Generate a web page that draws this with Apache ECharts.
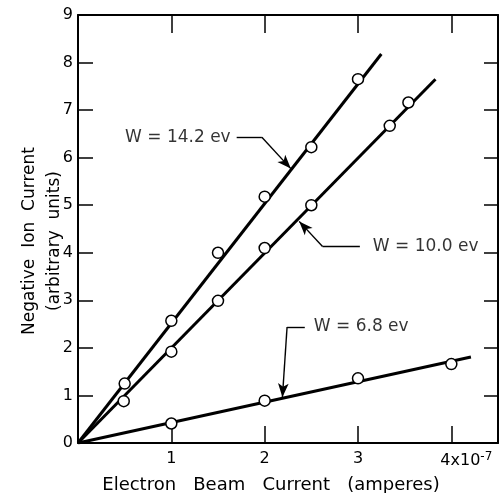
<!DOCTYPE html>
<html>
<head>
<meta charset="utf-8">
<script src="https://cdn.jsdelivr.net/npm/echarts@6/dist/echarts.min.js"></script>
<style>
  html, body { margin: 0; padding: 0; background: #fff; }
  #chart { width: 499px; height: 493px; }
</style>
</head>
<body>
<div id="chart"></div>
<script>
// measured points (beam current in 1e-7 A, ion current arbitrary units)
const beam142 = [0.5, 1, 1.5, 2, 2.5, 3];
const ion142 = [1.25, 2.57, 4.0, 5.18, 6.22, 7.65];
const beam100 = [0.49, 1, 1.5, 2, 2.5, 3.34, 3.54];
const ion100 = [0.88, 1.92, 2.99, 4.1, 5.0, 6.67, 7.16];
const beam68 = [1, 2, 3, 4];
const ion68 = [0.41, 0.89, 1.36, 1.66];
// straight fitted lines, from origin to end of drawn line
const fit142 = [[0, 0], [3.25, 8.18]];
const fit100 = [[0, 0], [3.83, 7.65]];
const fit68 = [[0, 0], [4.21, 1.81]];
// labels
const labels = ["W = 14.2 ev", "W = 10.0 ev", "W = 6.8 ev"];
// leader lines: horizontal run then arrow to the line
const leader142 = [[1.70, 6.43], [1.97, 6.43], [2.28, 5.77]];
const leader100 = [[3.02, 4.13], [2.62, 4.13], [2.37, 4.66]];
const leader68 = [[2.43, 2.44], [2.24, 2.44], [2.19, 0.96]];

const ink = "#000";
const font = "DejaVu Sans";

function pts(xs, ys) {
  return xs.map((x, i) => [x, ys[i]]);
}

function fitLine(d) {
  return {
    type: "line",
    data: d,
    showSymbol: false,
    silent: true,
    lineStyle: { color: ink, width: 3 },
    z: 2,
  };
}

function dots(d) {
  return {
    type: "scatter",
    data: d,
    symbol: "circle",
    symbolSize: 11,
    itemStyle: { color: "#fff", borderColor: ink, borderWidth: 1.5, opacity: 1 },
    z: 5,
  };
}

function leader(p, text, side, gap) {
  return {
    type: "scatter",
    data: [p[0]],
    symbolSize: 0,
    silent: true,
    label: {
      show: true,
      formatter: text,
      position: side,
      distance: gap,
      color: ink,
      fontFamily: font,
      fontSize: 17,
    },
    markLine: {
      silent: true,
      animation: false,
      lineStyle: { color: ink, width: 1.4, type: "solid" },
      label: { show: false },
      data: [
        [
          { coord: p[0], symbol: "none" },
          { coord: p[1], symbol: "none" },
        ],
        [
          { coord: p[1], symbol: "none" },
          { coord: p[2], symbol: "arrow", symbolSize: [8, 14] },
        ],
      ],
    },
    z: 4,
  };
}

const chart = echarts.init(document.getElementById("chart"));
chart.setOption({
  animation: false,
  backgroundColor: "#fff",
  grid: { left: 78, right: 1, top: 15, bottom: 50, outerBoundsMode: "none" },
  xAxis: [
    {
      type: "value",
      min: 0,
      max: 4.5,
      interval: 1,
      splitLine: { show: false },
      axisLine: { onZero: false, lineStyle: { color: ink, width: 2 } },
      axisTick: { inside: true, length: 17, lineStyle: { color: ink, width: 1.5 } },
      axisLabel: {
        margin: 8,
        color: ink,
        fontFamily: font,
        fontSize: 16,
        formatter: function (v) {
          if (v == 4) return "{a|4x10}{b|-7}";
          if (v == 0 || v % 1 != 0) return "";
          return String(v);
        },
        rich: {
          a: { fontFamily: font, fontSize: 16, color: ink, padding: [0, 0, 0, 30] },
          b: { fontFamily: font, fontSize: 12, color: ink, verticalAlign: "top", padding: [0, 0, 7, 0] },
        },
      },
      name: "Electron   Beam   Current   (amperes)",
      nameLocation: "middle",
      nameGap: 33,
      nameMoveOverlap: false,
      nameTextStyle: { color: ink, fontFamily: font, fontSize: 18, padding: [0, 34, 0, 0] },
    },
    {
      type: "value",
      position: "top",
      min: 0,
      max: 4.5,
      interval: 1,
      splitLine: { show: false },
      axisLine: { onZero: false, lineStyle: { color: ink, width: 2 } },
      axisTick: { inside: true, length: 18, lineStyle: { color: ink, width: 1.5 } },
      axisLabel: { show: false },
    },
  ],
  yAxis: [
    {
      type: "value",
      min: 0,
      max: 9,
      interval: 1,
      splitLine: { show: false },
      axisLine: { onZero: false, lineStyle: { color: ink, width: 2 } },
      axisTick: { inside: true, length: 15, lineStyle: { color: ink, width: 1.5 } },
      axisLabel: { margin: 5, color: ink, fontFamily: font, fontSize: 16 },
      name: "Negative  Ion  Current\n(arbitrary  units)",
      nameLocation: "middle",
      nameGap: 11,
      nameMoveOverlap: false,
      nameTextStyle: { color: ink, fontFamily: font, fontSize: 17, lineHeight: 25, padding: [0, 24, 0, 0] },
    },
    {
      type: "value",
      position: "right",
      min: 0,
      max: 9,
      interval: 1,
      splitLine: { show: false },
      axisLine: { onZero: false, lineStyle: { color: ink, width: 2 } },
      axisTick: { inside: true, length: 14, lineStyle: { color: ink, width: 1.5 } },
      axisLabel: { show: false },
    },
  ],
  series: [
    fitLine(fit142),
    fitLine(fit100),
    fitLine(fit68),
    dots(pts(beam142, ion142)),
    dots(pts(beam100, ion100)),
    dots(pts(beam68, ion68)),
    leader(leader142, labels[0], "left", 6),
    leader(leader100, labels[1], "right", 13),
    leader(leader68, labels[2], "right", 9),
  ],
});
</script>
</body>
</html>
